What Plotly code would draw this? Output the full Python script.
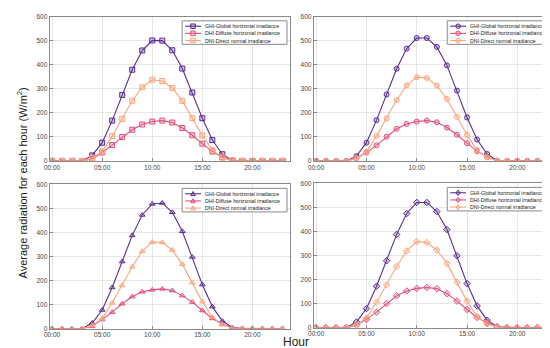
import plotly.graph_objects as go

hours = list(range(24))
tick_vals = [0, 5, 10, 15, 20]
tick_text = ["00:00", "05:00", "10:00", "15:00", "20:00"]
series_names = ["GHI-Global horizontal irradiance",
                "DHI-Diffuse horizontal irradiance",
                "DNI-Direct normal irradiance"]

z3 = [0, 0, 0, 0]
z5 = [0, 0, 0, 0, 0]

# Panel A (top-left, squares)
ghi_a = z3 + [23, 76, 168, 275, 380, 460, 502, 501, 461, 385, 285, 178, 87, 28, 1] + z5
dhi_a = z3 + [9, 35, 66, 100, 130, 152, 164, 168, 160, 137, 107, 72, 39, 15, 1] + z5
dni_a = z3 + [12, 39, 103, 175, 251, 307, 338, 333, 304, 250, 178, 106, 45, 14, 1] + z5

# Panel B (top-right, circles)
ghi_b = z3 + [20, 76, 170, 277, 384, 468, 512, 512, 475, 398, 293, 181, 89, 29, 1] + z5
dhi_b = z3 + [11, 35, 65, 101, 134, 154, 164, 168, 161, 139, 109, 74, 41, 16, 1] + z5
dni_b = z3 + [11, 38, 104, 177, 254, 315, 349, 346, 314, 258, 184, 109, 45, 15, 1] + z5

# Panel C (bottom-left, triangles)
ghi_c = z3 + [23, 77, 171, 279, 388, 473, 519, 523, 484, 405, 298, 183, 91, 31, 4] + z5
dhi_c = z3 + [9, 37, 68, 103, 133, 153, 161, 165, 158, 137, 110, 75, 42, 18, 3] + z5
dni_c = z3 + [12, 41, 107, 180, 257, 322, 360, 359, 327, 268, 191, 112, 47, 16, 1] + z5

# Panel D (bottom-right, diamonds)
ghi_d = z3 + [23, 79, 172, 278, 388, 475, 521, 521, 483, 408, 299, 183, 90, 30, 3] + z5
dhi_d = z3 + [10, 34, 64, 100, 132, 152, 163, 167, 162, 141, 110, 75, 42, 19, 3] + z5
dni_d = z3 + [12, 39, 105, 178, 255, 319, 358, 354, 323, 267, 189, 110, 45, 15, 3] + z5

line_colors = ["#5B2C91", "#E34F7A", "#FCA57C"]
fill_colors = ["rgba(91,44,145,0.25)", "rgba(227,79,122,0.25)", "rgba(252,165,124,0.25)"]

panels = [
    (ghi_a, dhi_a, dni_a, "square", "x", "y"),
    (ghi_b, dhi_b, dni_b, "circle", "x2", "y2"),
    (ghi_c, dhi_c, dni_c, "triangle-up", "x3", "y3"),
    (ghi_d, dhi_d, dni_d, "diamond", "x4", "y4"),
]

fig = go.Figure()
for ghi, dhi, dni, sym, xa, ya in panels:
    for i, vals in enumerate([ghi, dhi, dni]):
        fig.add_trace(go.Scatter(
            x=hours, y=vals, mode="lines+markers", name=series_names[i],
            line=dict(color=line_colors[i], width=1.1),
            marker=dict(symbol=sym, size=5, color=fill_colors[i],
                        line=dict(color=line_colors[i], width=1)),
            xaxis=xa, yaxis=ya, showlegend=False))

W, H = 550, 348
# plot area rectangles in pixels: (left, right, top, bottom)
rects = [(36, 279, 5, 152), (303, 547, 5, 152), (36, 279, 176, 323), (303, 547, 175, 322)]

def px(x):
    return x / W

def py(y):
    return 1 - y / H

axis_common = dict(showline=True, linecolor="#8a8a8a", linewidth=1, mirror=True,
                   showgrid=True, gridcolor="#e6e6e6", gridwidth=1,
                   ticks="inside", ticklen=3, tickcolor="#8a8a8a",
                   tickfont=dict(family="Arial, Liberation Sans", size=6.5, color="#444"),
                   zeroline=False)

layout = dict(width=W, height=H, margin=dict(l=0, r=0, t=0, b=0),
              paper_bgcolor="white", plot_bgcolor="white", showlegend=False)

for k, (l, r, t, b) in enumerate(rects):
    sfx = "" if k == 0 else str(k + 1)
    layout["xaxis" + sfx] = dict(axis_common, domain=[px(l), px(r)], range=[-0.25, 23.75],
                                 tickvals=tick_vals, ticktext=tick_text,
                                 anchor="y" + sfx)
    layout["yaxis" + sfx] = dict(axis_common, domain=[py(b), py(t)], range=[0, 600],
                                 tickvals=[0, 100, 200, 300, 400, 500, 600],
                                 anchor="x" + sfx)

fig.update_layout(**layout)

# Custom compact legends (MATLAB-like) drawn as shapes + text
def marker_path(sym, cx, cy, s):
    if sym == "triangle-up":
        pts = [(cx, cy - s), (cx + s, cy + s * 0.8), (cx - s, cy + s * 0.8)]
    else:
        pts = [(cx, cy - s * 1.2), (cx + s * 0.9, cy), (cx, cy + s * 1.2), (cx - s * 0.9, cy)]
    return "M " + " L ".join(f"{px(a):.5f},{py(b):.5f}" for a, b in pts) + " Z"

for k, (l, r, t, b) in enumerate(rects):
    sym = panels[k][3]
    bl, br, bt, bb = r - 109, r - 3, t + 4, t + 28
    fig.add_shape(type="rect", xref="paper", yref="paper",
                  x0=px(bl), x1=px(br), y0=py(bb), y1=py(bt),
                  line=dict(color="#8a8a8a", width=1), fillcolor="white")
    for i in range(3):
        yy = bt + 5.5 + i * 7.3
        x0, x1 = bl + 3, bl + 19
        cx = (x0 + x1) / 2
        fig.add_shape(type="line", xref="paper", yref="paper",
                      x0=px(x0), x1=px(x1), y0=py(yy), y1=py(yy),
                      line=dict(color=line_colors[i], width=1.1))
        s = 2.3
        if sym == "square":
            fig.add_shape(type="rect", xref="paper", yref="paper",
                          x0=px(cx - s), x1=px(cx + s), y0=py(yy + s), y1=py(yy - s),
                          line=dict(color=line_colors[i], width=1), fillcolor=fill_colors[i])
        elif sym == "circle":
            fig.add_shape(type="circle", xref="paper", yref="paper",
                          x0=px(cx - s), x1=px(cx + s), y0=py(yy + s), y1=py(yy - s),
                          line=dict(color=line_colors[i], width=1), fillcolor=fill_colors[i])
        else:
            fig.add_shape(type="path", xref="paper", yref="paper",
                          path=marker_path(sym, cx, yy, s),
                          line=dict(color=line_colors[i], width=1), fillcolor=fill_colors[i])
        fig.add_annotation(text=series_names[i], xref="paper", yref="paper",
                           x=px(bl + 21), y=py(yy), xanchor="left", yanchor="middle",
                           showarrow=False,
                           font=dict(family="Arial, Liberation Sans", size=5.2, color="#222"))

fig.add_annotation(text="Average radiation for each hour (W/m<sup>2</sup>)",
                   x=px(8), y=py(174), xref="paper", yref="paper",
                   xanchor="center", yanchor="middle",
                   textangle=-90, showarrow=False,
                   font=dict(family="Arial, Liberation Sans", size=11, color="#222"))
fig.add_annotation(text="Hour", x=px(285), y=py(337), xref="paper", yref="paper",
                   xanchor="center", yanchor="middle",
                   showarrow=False,
                   font=dict(family="Arial, Liberation Sans", size=12, color="#222"))

fig.write_html("out.html")
